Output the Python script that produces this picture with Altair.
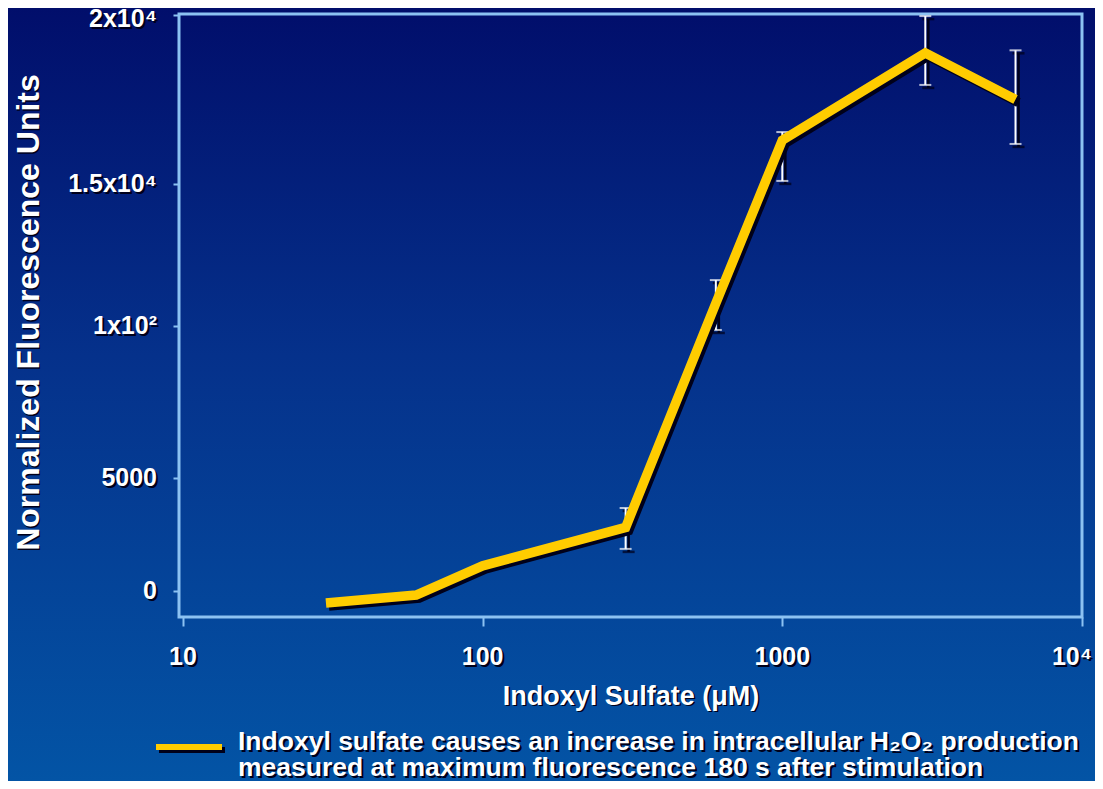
import altair as alt
import pandas as pd

# ---------------- data ----------------
doses = [30, 60, 100, 300, 600, 1000, 3000, 6000]
fluor = [-540, -190, 1100, 2800, 10800, 16300, 18870, 17500]

err_doses = [300, 600, 1000, 3000, 6000]
err_low = [1850, 9870, 15100, 17930, 16190]
err_high = [3660, 11620, 16540, 19960, 18950]

x_tick_values = [10, 100, 1000, 10000]
x_tick_labels = ["10", "100", "1000", "10⁴"]
y_tick_values = [0, 5000, 10000, 15000, 20000]
y_tick_labels = ["0", "5000", "1x10²", "1.5x10⁴", "2x10⁴"]

x_title = "Indoxyl Sulfate (μM)"
y_title = "Normalized Fluorescence Units"
caption_lines = [
    "Indoxyl sulfate causes an increase in intracellular H₂O₂ production",
    "measured at maximum fluorescence 180 s after stimulation",
]

# ---------------- style ----------------
W, H = 903, 603
PAD_R, PAD_B = 13, 164
FONT = "Liberation Sans"
YELLOW = "#FFCC00"
FRAME = "#8CC2F2"
SHADOW = "#00001A"

line_df = pd.DataFrame({"dose": doses, "fluor": fluor})
err_df = pd.DataFrame({"dose": err_doses, "low": err_low, "high": err_high})
xt_df = pd.DataFrame({"dose": x_tick_values, "label": x_tick_labels})
yt_df = pd.DataFrame({"fluor": y_tick_values, "label": y_tick_labels})

x_scale = alt.Scale(type="log", domain=[9.7, 10000], nice=False)
y_scale = alt.Scale(
    domain=[-1150, 0, 5000, 10000, 15000, 20000],
    range=[603, 576.7, 463.7, 312, 170.3, 0.7],
    nice=False,
    zero=False,
)

one = alt.Data(values=[{}])

gradient = {
    "gradient": "linear",
    "x1": 0, "y1": 0, "x2": 0, "y2": 1,
    "stops": [
        {"offset": 0, "color": "#010E6B"},
        {"offset": 0.45, "color": "#05318B"},
        {"offset": 1, "color": "#0354A5"},
    ],
}

bg = alt.Chart(one).mark_rect(fill=gradient).encode(
    x=alt.value(-171), x2=alt.value(W + PAD_R), y=alt.value(-6), y2=alt.value(H + PAD_B)
)

frame = alt.Chart(one).mark_rect(fill="transparent", stroke=FRAME, strokeWidth=3).encode(
    x=alt.value(0), x2=alt.value(W), y=alt.value(0), y2=alt.value(H)
)

X = alt.X("dose:Q", scale=x_scale)

err_shadow = alt.Chart(err_df).mark_rule(
    color=SHADOW, strokeWidth=2.5, xOffset=3, x2Offset=3, yOffset=3, y2Offset=3
).encode(x=X, y=alt.Y("low:Q", scale=y_scale), y2="high:Q")

caps_shadow = alt.Chart(err_df).transform_fold(
    ["low", "high"], as_=["which", "val"]
).mark_tick(orient="horizontal", size=12, thickness=2.5, color=SHADOW, xOffset=3, yOffset=3).encode(
    x=X, y=alt.Y("val:Q", scale=y_scale)
)

err_rule = alt.Chart(err_df).mark_rule(color="white", strokeWidth=2).encode(
    x=X, y=alt.Y("low:Q", scale=y_scale), y2="high:Q"
)

caps = alt.Chart(err_df).transform_fold(
    ["low", "high"], as_=["which", "val"]
).mark_tick(orient="horizontal", size=12, thickness=2, color="white").encode(
    x=X, y=alt.Y("val:Q", scale=y_scale)
)

line_shadow = alt.Chart(line_df).mark_line(
    color=SHADOW, strokeWidth=9.5, strokeCap="butt", strokeJoin="miter", xOffset=3, yOffset=3
).encode(x=X, y=alt.Y("fluor:Q", scale=y_scale))

main_line = alt.Chart(line_df).mark_line(
    color=YELLOW, strokeWidth=9.5, strokeCap="butt", strokeJoin="miter"
).encode(
    x=alt.X(
        "dose:Q",
        scale=x_scale,
        axis=alt.Axis(
            values=x_tick_values,
            labels=False,
            title=x_title,
            tickSize=9,
            titleX=W / 2,
            titleY=87,
            titleFontSize=27,
            titleBaseline="alphabetic",
            titleAlign="center",
            zindex=1,
        ),
    ),
    y=alt.Y(
        "fluor:Q",
        scale=y_scale,
        axis=alt.Axis(
            values=y_tick_values,
            labels=False,
            title=y_title,
            tickSize=6,
            titleX=-141,
            titleY=298,
            titleAngle=270,
            titleFontSize=32,
            titleBaseline="alphabetic",
            titleAlign="center",
            zindex=1,
        ),
    ),
)

txt = dict(font=FONT, fontWeight="bold")


def ylabels(color, dx, dy, test, extra_dy):
    return alt.Chart(yt_df).transform_filter(test).mark_text(
        align="right", baseline="middle", fontSize=25, color=color,
        dx=dx, dy=dy + extra_dy, **txt
    ).encode(x=alt.value(-22), y=alt.Y("fluor:Q", scale=y_scale), text="label:N")


def xlabels(color, dx, dy, test, extra_dx):
    return alt.Chart(xt_df).transform_filter(test).mark_text(
        align="center", baseline="top", fontSize=25, color=color,
        dx=dx + extra_dx, dy=dy, **txt
    ).encode(x=X, y=alt.value(H + 28), text="label:N")


label_layers = []
for color, d in ((SHADOW, 2), ("white", 0)):
    label_layers += [
        ylabels(color, d, d, "datum.fluor != 20000", 0),
        ylabels(color, d, d, "datum.fluor == 20000", 4),
        xlabels(color, d, d, "datum.dose != 10000", 0),
        xlabels(color, d, d, "datum.dose == 10000", -10),
    ]

xtitle_shadow = alt.Chart(one).mark_text(
    align="center", baseline="alphabetic", fontSize=27, color=SHADOW, **txt
).encode(x=alt.value(W / 2 + 2), y=alt.value(H + 87 + 2), text=alt.value(x_title))

ytitle_shadow = alt.Chart(one).mark_text(
    align="center", baseline="alphabetic", fontSize=32, color=SHADOW, angle=270, **txt
).encode(x=alt.value(-141 + 2), y=alt.value(298 + 2), text=alt.value(y_title))

CAP_Y = 736
cap_shadow = alt.Chart(one).mark_text(
    align="left", baseline="alphabetic", fontSize=26.5, lineHeight=26, color=SHADOW, **txt
).encode(x=alt.value(59 + 2), y=alt.value(CAP_Y + 2), text=alt.value(caption_lines))

cap_text = alt.Chart(one).mark_text(
    align="left", baseline="alphabetic", fontSize=26.5, lineHeight=26, color="white", **txt
).encode(x=alt.value(59), y=alt.value(CAP_Y), text=alt.value(caption_lines))

swatch_shadow = alt.Chart(one).mark_rule(color=SHADOW, strokeWidth=6).encode(
    x=alt.value(-23 + 3), x2=alt.value(43 + 3), y=alt.value(733 + 3)
)
swatch = alt.Chart(one).mark_rule(color=YELLOW, strokeWidth=6).encode(
    x=alt.value(-23), x2=alt.value(43), y=alt.value(733)
)

chart = (
    alt.layer(
        bg, frame,
        err_shadow, caps_shadow, err_rule, caps,
        line_shadow, main_line,
        *label_layers,
        xtitle_shadow, ytitle_shadow,
        cap_shadow, cap_text, swatch_shadow, swatch,
    )
    .properties(
        width=W,
        height=H,
        autosize="none",
        padding={"left": 171, "top": 6, "right": PAD_R, "bottom": PAD_B},
        background="#0354A5",
    )
    .configure_view(strokeWidth=0)
    .configure_axis(
        titleFont=FONT,
        titleFontWeight="bold",
        titleColor="white",
        tickColor=FRAME,
        tickWidth=2,
        domain=False,
        grid=False,
    )
)

chart.save("out.html", embed_options={"renderer": "svg", "actions": False})
